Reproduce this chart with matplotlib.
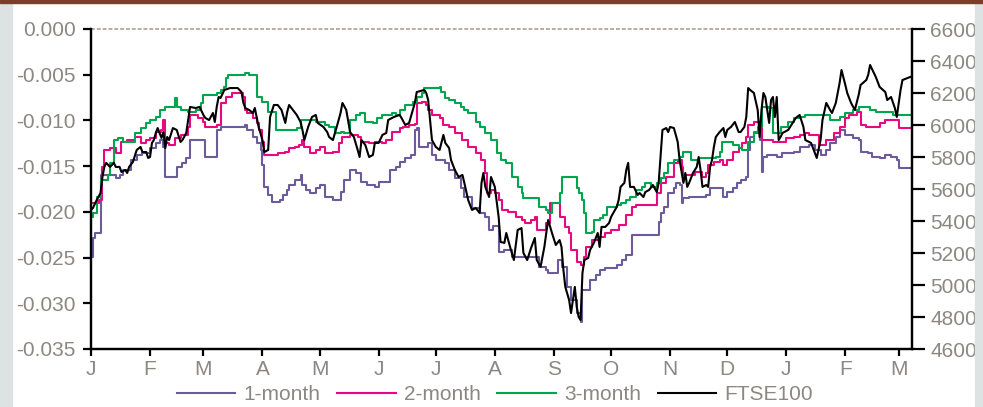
import matplotlib
matplotlib.use("Agg")
import matplotlib.pyplot as plt
from matplotlib.patches import Rectangle
from matplotlib.ticker import FormatStrFormatter
import pandas as pd

# implied volatility skew by maturity (left axis) and FTSE100 level (right axis)
# each entry: (days since 1 Jan 1998, value)
one_month = [(0,-0.0249),(1,-0.0229),(2,-0.0223),(5,-0.0160),(13,-0.0163),(15,-0.0160),(17,-0.0154),(21,-0.0143),(24,-0.0138),(27,-0.0136),
             (31,-0.0130),(34,-0.0125),(36,-0.0121),(38,-0.0129),(39,-0.0162),(45,-0.0151),(48,-0.0147),(50,-0.0141),(52,-0.0121),(60,-0.0140),
             (66,-0.0110),(68,-0.0107),(81,-0.0105),(82,-0.0110),(85,-0.0118),(87,-0.0125),(89,-0.0132),(90,-0.0149),(91,-0.0173),(93,-0.0182),
             (95,-0.0189),(99,-0.0187),(101,-0.0182),(103,-0.0176),(104,-0.0171),(107,-0.0165),(110,-0.0160),(111,-0.0171),(113,-0.0176),(115,-0.0179),
             (118,-0.0174),(120,-0.0171),(123,-0.0184),(127,-0.0187),(131,-0.0178),(133,-0.0165),(136,-0.0154),(139,-0.0157),(142,-0.0167),(145,-0.0171),
             (149,-0.0173),(151,-0.0167),(157,-0.0154),(160,-0.0151),(162,-0.0145),(165,-0.0141),(168,-0.0138),(170,-0.0110),(171,-0.0108),(172,-0.0129),
             (177,-0.0125),(179,-0.0138),(181,-0.0143),(186,-0.0147),(188,-0.0154),(191,-0.0163),(194,-0.0174),(196,-0.0184),(200,-0.0196),(204,-0.0201),
             (207,-0.0206),(209,-0.0220),(211,-0.0216),(214,-0.0244),(217,-0.0242),(221,-0.0249),(235,-0.0260),(239,-0.0264),(240,-0.0267),(245,-0.0253),
             (247,-0.0260),(250,-0.0282),(252,-0.0296),(255,-0.0311),(257,-0.0320),(258,-0.0285),(262,-0.0275),(265,-0.0269),(267,-0.0264),(270,-0.0261),
             (276,-0.0258),(279,-0.0253),(281,-0.0247),(284,-0.0225),(298,-0.0211),(299,-0.0201),(301,-0.0195),(303,-0.0179),(306,-0.0174),(307,-0.0168),
             (309,-0.0171),(310,-0.0190),(311,-0.0185),(314,-0.0184),(323,-0.0182),(325,-0.0174),(332,-0.0184),(334,-0.0178),(337,-0.0174),(339,-0.0168),
             (341,-0.0165),(344,-0.0162),(345,-0.0132),(346,-0.0118),(348,-0.0114),(351,-0.0121),(352,-0.0156),(353,-0.0140),(355,-0.0138),(360,-0.0140),
             (363,-0.0136),(369,-0.0135),(372,-0.0129),(377,-0.0127),(380,-0.0132),(383,-0.0138),(386,-0.0132),(388,-0.0125),(391,-0.0118),(393,-0.0110),
             (396,-0.0116),(400,-0.0119),(403,-0.0121),(404,-0.0135),(408,-0.0136),(410,-0.0140),(414,-0.0141),(417,-0.0138),(420,-0.0140),(423,-0.0143),
             (424,-0.0152),(431,-0.0152)]

two_month = [(0,-0.0190),(4,-0.0187),(6,-0.0151),(7,-0.0132),(10,-0.0130),(13,-0.0136),(16,-0.0124),(19,-0.0121),(23,-0.0118),(26,-0.0125),
             (29,-0.0121),(31,-0.0119),(34,-0.0113),(37,-0.0110),(38,-0.0100),(39,-0.0125),(41,-0.0127),(44,-0.0119),(47,-0.0116),(51,-0.0107),
             (52,-0.0094),(56,-0.0097),(59,-0.0102),(60,-0.0107),(66,-0.0105),(68,-0.0081),(71,-0.0074),(74,-0.0070),(80,-0.0074),(81,-0.0089),
             (82,-0.0092),(85,-0.0097),(87,-0.0103),(88,-0.0110),(90,-0.0124),(91,-0.0138),(98,-0.0136),(102,-0.0135),(104,-0.0130),(107,-0.0129),
             (109,-0.0127),(111,-0.0121),(112,-0.0129),(115,-0.0136),(118,-0.0132),(120,-0.0129),(123,-0.0136),(127,-0.0135),(130,-0.0125),(132,-0.0118),
             (136,-0.0116),(140,-0.0118),(142,-0.0124),(146,-0.0125),(149,-0.0124),(153,-0.0125),(155,-0.0121),(158,-0.0113),(162,-0.0108),(164,-0.0107),
             (167,-0.0105),(170,-0.0104),(171,-0.0081),(174,-0.0080),(176,-0.0083),(177,-0.0089),(179,-0.0094),(183,-0.0097),(185,-0.0105),(188,-0.0107),
             (191,-0.0114),(195,-0.0121),(198,-0.0129),(202,-0.0136),(205,-0.0143),(207,-0.0158),(208,-0.0179),(210,-0.0176),(212,-0.0179),(214,-0.0187),
             (216,-0.0198),(219,-0.0200),(223,-0.0206),(226,-0.0209),(228,-0.0212),(231,-0.0209),(233,-0.0206),(234,-0.0220),(239,-0.0212),(241,-0.0190),
             (246,-0.0206),(249,-0.0217),(251,-0.0223),(252,-0.0242),(255,-0.0255),(257,-0.0258),(259,-0.0249),(260,-0.0238),(263,-0.0231),(267,-0.0228),
             (270,-0.0223),(273,-0.0220),(277,-0.0214),(281,-0.0203),(284,-0.0195),(286,-0.0193),(297,-0.0179),(299,-0.0168),(302,-0.0162),(306,-0.0147),
             (308,-0.0143),(310,-0.0151),(311,-0.0160),(317,-0.0156),(321,-0.0162),(323,-0.0158),(324,-0.0149),(327,-0.0145),(330,-0.0143),(332,-0.0149),
             (334,-0.0143),(337,-0.0135),(340,-0.0130),(342,-0.0125),(344,-0.0118),(345,-0.0105),(348,-0.0102),(352,-0.0121),(358,-0.0124),(365,-0.0119),
             (369,-0.0118),(372,-0.0116),(375,-0.0114),(377,-0.0116),(382,-0.0127),(386,-0.0121),(390,-0.0114),(393,-0.0107),(396,-0.0097),(398,-0.0094),
             (402,-0.0091),(404,-0.0105),(407,-0.0107),(414,-0.0103),(417,-0.0100),(424,-0.0108),(431,-0.0108)]

three_month = [(0,-0.0206),(1,-0.0201),(3,-0.0184),(5,-0.0165),(9,-0.0160),(10,-0.0147),(12,-0.0121),(14,-0.0119),(17,-0.0124),(23,-0.0114),
               (26,-0.0108),(29,-0.0103),(31,-0.0100),(34,-0.0096),(36,-0.0089),(39,-0.0085),(44,-0.0075),(45,-0.0085),(47,-0.0089),(51,-0.0091),
               (55,-0.0089),(58,-0.0081),(59,-0.0072),(66,-0.0070),(68,-0.0067),(70,-0.0063),(71,-0.0054),(72,-0.0050),(81,-0.0048),(83,-0.0050),
               (87,-0.0074),(90,-0.0080),(93,-0.0091),(97,-0.0110),(108,-0.0108),(110,-0.0100),(118,-0.0102),(123,-0.0105),(125,-0.0107),(128,-0.0114),
               (131,-0.0113),(133,-0.0114),(136,-0.0100),(139,-0.0094),(141,-0.0092),(144,-0.0102),(148,-0.0103),(150,-0.0097),(153,-0.0094),(158,-0.0092),
               (160,-0.0094),(162,-0.0089),(165,-0.0083),(169,-0.0080),(171,-0.0074),(174,-0.0070),(175,-0.0065),(183,-0.0063),(184,-0.0069),(186,-0.0075),
               (188,-0.0078),(191,-0.0081),(194,-0.0085),(196,-0.0089),(198,-0.0092),(202,-0.0102),(204,-0.0107),(207,-0.0114),(210,-0.0121),(213,-0.0136),
               (215,-0.0143),(218,-0.0147),(221,-0.0162),(224,-0.0173),(226,-0.0179),(227,-0.0185),(235,-0.0195),(239,-0.0198),(240,-0.0201),(242,-0.0190),
               (246,-0.0179),(247,-0.0162),(255,-0.0174),(256,-0.0179),(258,-0.0187),(259,-0.0201),(260,-0.0223),(263,-0.0222),(264,-0.0209),(267,-0.0207),
               (269,-0.0203),(271,-0.0195),(276,-0.0193),(278,-0.0190),(281,-0.0187),(283,-0.0184),(286,-0.0176),(289,-0.0173),(291,-0.0168),(294,-0.0173),
               (297,-0.0168),(299,-0.0163),(301,-0.0158),(303,-0.0147),(306,-0.0143),(309,-0.0140),(311,-0.0135),(315,-0.0143),(319,-0.0141),(328,-0.0140),
               (330,-0.0135),(331,-0.0124),(337,-0.0127),(340,-0.0130),(342,-0.0132),(345,-0.0124),(348,-0.0113),(350,-0.0107),(352,-0.0085),(356,-0.0086),
               (358,-0.0114),(362,-0.0107),(366,-0.0102),(369,-0.0097),(372,-0.0096),(375,-0.0094),(388,-0.0100),(393,-0.0096),(396,-0.0092),(400,-0.0089),
               (403,-0.0085),(409,-0.0089),(412,-0.0091),(421,-0.0094),(431,-0.0094)]

ftse100 = [(0,5469),(1,5481),(3,5531),(5,5575),(6,5675),(7,5738),(8,5763),(10,5738),(12,5763),(13,5738),(15,5738),(16,5706),(18,5719),(19,5700),
           (20,5738),(22,5769),(24,5844),(26,5863),(27,5831),(29,5831),(30,5794),(31,5800),(32,5888),(33,5906),(34,5950),(35,5981),(37,5919),
           (38,5956),(39,5856),(40,5925),(41,5906),(43,5981),(45,5969),(47,5894),(48,5906),(50,5950),(51,6031),(52,6113),(55,6106),(57,6113),
           (59,6063),(60,6044),(62,6031),(64,6075),(65,6019),(66,6113),(67,6175),(68,6169),(70,6219),(73,6231),(77,6231),(79,6206),(80,6138),
           (81,6106),(83,6094),(85,6075),(86,6106),(88,5988),(90,5906),(91,5831),(93,5844),(94,6050),(96,6125),(98,6125),(100,6094),(102,6013),
           (103,6081),(104,6125),(106,6094),(108,6063),(110,6019),(111,5969),(112,5906),(114,5988),(116,6050),(118,6063),(119,6013),(122,5988),
           (124,5956),(125,5925),(127,5906),(129,5988),(131,6075),(132,6138),(134,6094),(136,5956),(138,5925),(140,5844),(141,5800),(142,5906),
           (144,5875),(146,5800),(148,5813),(149,5888),(151,5888),(153,5938),(155,5950),(156,6031),(159,6050),(162,6063),(163,6044),(165,6000),
           (167,6013),(170,6138),(171,6206),(175,6219),(176,6200),(177,6156),(178,6031),(179,5906),(181,5863),(183,5844),(185,5938),(186,5888),
           (188,5856),(189,5781),(191,5719),(193,5675),(195,5688),(196,5638),(198,5531),(200,5469),(202,5481),(204,5450),(205,5638),(206,5700),
           (207,5613),(209,5550),(210,5675),(212,5613),(214,5425),(215,5269),(217,5263),(218,5325),(220,5238),(222,5156),(224,5344),(226,5356),
           (227,5200),(229,5156),(231,5231),(233,5294),(234,5156),(236,5113),(238,5238),(239,5325),(240,5406),(242,5325),(244,5250),(246,5281),
           (247,5238),(248,5094),(249,4988),(251,4906),(252,4825),(254,4988),(255,4863),(256,4800),(257,4781),(258,5075),(259,5156),(261,5169),
           (262,5219),(264,5263),(266,5325),(267,5238),(268,5363),(270,5363),(272,5388),(273,5425),(276,5488),(277,5531),(278,5613),(280,5638),
           (281,5719),(282,5763),(283,5613),(285,5613),(287,5563),(288,5575),(290,5550),(291,5581),(293,5594),(295,5625),(297,5581),(298,5638),
           (299,5800),(300,5969),(302,5981),(303,5956),(304,5988),(306,5981),(308,5894),(309,5781),(311,5638),(312,5700),(313,5613),(314,5638),
           (316,5700),(318,5738),(319,5800),(320,5719),(321,5613),(323,5625),(324,5613),(325,5738),(326,5781),(327,5863),(328,5925),(330,5956),
           (332,5981),(333,5925),(334,5969),(336,5988),(338,6019),(340,5956),(341,5956),(343,5988),(344,6050),(345,6231),(346,6219),(348,6200),
           (350,6094),(351,5925),(352,6094),(353,6200),(354,6175),(356,6013),(357,6156),(358,6175),(359,6050),(360,6175),(361,5906),(362,5925),
           (363,5950),(366,5969),(367,5988),(370,6044),(372,6063),(374,5988),(375,5906),(378,5888),(380,5825),(381,5794),(383,5906),(384,6031),
           (386,6138),(388,6094),(389,6075),(391,6138),(393,6263),(394,6344),(396,6250),(397,6200),(399,6138),(401,6094),(403,6188),(404,6250),
           (407,6281),(408,6313),(409,6375),(412,6300),(414,6238),(417,6206),(418,6156),(420,6175),(422,6106),(423,6050),(425,6219),(426,6281),
           (430,6300)]

month_labels = ["J", "F", "M", "A", "M", "J", "J", "A", "S", "O", "N", "D", "J", "F", "M"]
skew_ticks = [0.0, -0.005, -0.010, -0.015, -0.020, -0.025, -0.030, -0.035]
ftse_ticks = [4600, 4800, 5000, 5200, 5400, 5600, 5800, 6000, 6200, 6400, 6600]

start = pd.Timestamp("1998-01-01")
month_starts = [(d - start).days for d in pd.date_range("1998-01-01", "1999-03-01", freq="MS")]

grey = "#8d8782"
fsize = 15
plt.rcParams["font.family"] = ["Liberation Sans", "DejaVu Sans"]

fig = plt.figure(figsize=(9.83, 4.07), dpi=100)
fig.patch.set_facecolor("white")
# side strips and the thin rule across the top (drawn over the axes so they trim the right labels)
fig.patches.append(Rectangle((0, 0), 12 / 983, 1, transform=fig.transFigure, color="#dde3e3", zorder=5))
fig.patches.append(Rectangle((975 / 983, 0), 8 / 983, 1, transform=fig.transFigure, color="#dde3e3", zorder=5))
fig.patches.append(Rectangle((0, 1 - 3 / 407), 1, 3 / 407, transform=fig.transFigure, color="#7b3e28", zorder=5))

ax = fig.add_axes([91 / 983, 58 / 407, 821 / 983, 320 / 407])
ax2 = ax.twinx()

series = [(one_month, "#6b5b9b", "1-month"),
          (two_month, "#e6097f", "2-month"),
          (three_month, "#00a550", "3-month")]
handles = []
for data, color, name in series:
    days = [d for d, _ in data]
    vals = [v for _, v in data]
    h, = ax.step(days, vals, where="post", color=color, lw=1.5, label=name)
    handles.append(h)

fd = [d for d, _ in ftse100]
fv = [v for _, v in ftse100]
h, = ax2.plot(fd, fv, color="black", lw=1.5, label="FTSE100")
handles.append(h)

ax.set_xlim(0, 431)
ax.set_ylim(-0.035, 0.0)
ax2.set_ylim(4600, 6600)

# dotted rule at zero instead of a top frame
ax.axhline(0.0, color="#b9aea6", lw=1.4, ls=(0, (2, 1)), clip_on=False, zorder=1)

for a in (ax, ax2):
    a.spines["top"].set_visible(False)
    for s in ("left", "right", "bottom"):
        a.spines[s].set_linewidth(1.6)
        a.spines[s].set_color("black")

ax.set_xticks(month_starts)
ax.set_xticklabels(month_labels)
ax.set_yticks(skew_ticks)
ax.yaxis.set_major_formatter(FormatStrFormatter("%.3f"))
ax2.set_yticks(ftse_ticks)

ax.tick_params(axis="x", direction="out", length=5, width=1.6, pad=3, labelsize=fsize, labelcolor=grey)
ax.tick_params(axis="y", direction="out", length=6, width=1.6, pad=5, labelsize=fsize, labelcolor=grey)
ax2.tick_params(axis="y", direction="out", length=9, width=1.6, pad=4, labelsize=fsize, labelcolor=grey)

fig.legend(handles=handles, loc="center", bbox_to_anchor=(495 / 983, 12 / 407), ncol=4,
           frameon=False, fontsize=fsize, labelcolor=grey, handlelength=2.8,
           handletextpad=0.4, columnspacing=0.8)

fig.savefig("out.png", dpi=100, facecolor="white")
